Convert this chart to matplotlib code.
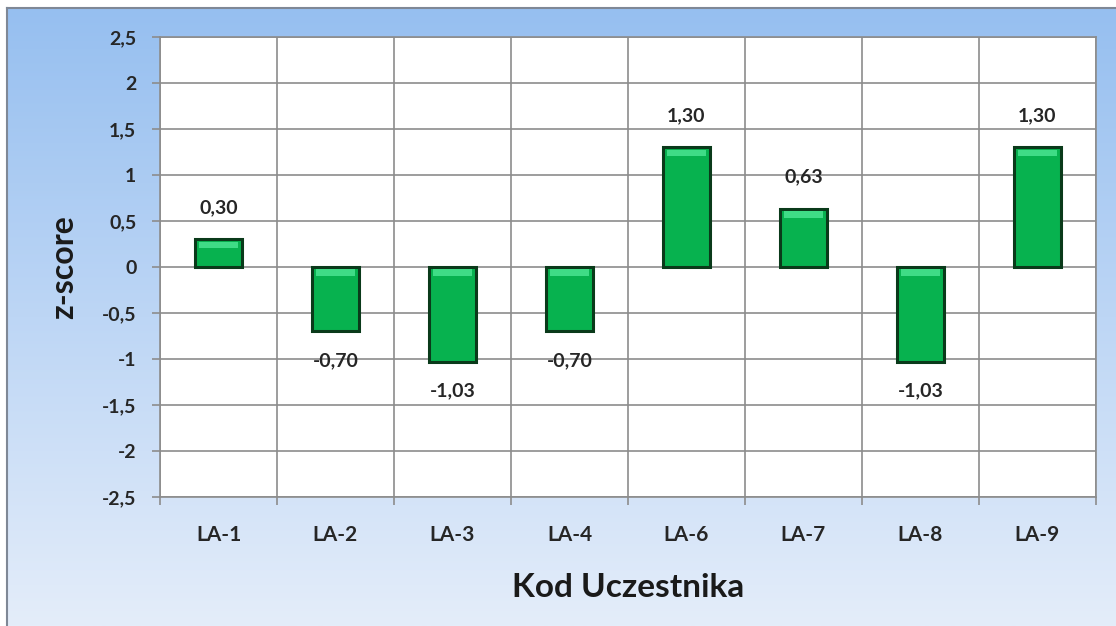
import numpy as np
import matplotlib
matplotlib.use("Agg")
import matplotlib.pyplot as plt

categories = ["LA-1", "LA-2", "LA-3", "LA-4", "LA-6", "LA-7", "LA-8", "LA-9"]
values = [0.30, -0.70, -1.03, -0.70, 1.30, 0.63, -1.03, 1.30]
labels = ["0,30", "-0,70", "-1,03", "-0,70", "1,30", "0,63", "-1,03", "1,30"]
yticks = [-2.5, -2, -1.5, -1, -0.5, 0, 0.5, 1, 1.5, 2, 2.5]
ytick_labels = ["-2,5", "-2", "-1,5", "-1", "-0,5", "0", "0,5", "1", "1,5", "2", "2,5"]

plt.rcParams['font.family'] = ['Lato', 'DejaVu Sans']

W, H = 1116, 626
fig = plt.figure(figsize=(W/100, H/100), dpi=100)
fig.patch.set_facecolor("white")

# background gradient panel
bg = fig.add_axes([7/W, 0, 1 - 7/W, 1 - 8/H])
grad = np.linspace(0, 1, 256)[:, None]
top = np.array([150, 191, 240]) / 255
bot = np.array([228, 237, 250]) / 255
img = top[None, None, :] * (1 - grad[..., None]) + bot[None, None, :] * grad[..., None]
bg.imshow(img, aspect="auto", extent=[0, 1, 0, 1])
bg.set_xlim(0, 1); bg.set_ylim(0, 1)
bg.set_xticks([]); bg.set_yticks([])
for s in ["right", "bottom"]:
    bg.spines[s].set_visible(False)
for s in ["left", "top"]:
    bg.spines[s].set_color("#7f8896")
    bg.spines[s].set_linewidth(1.5)

x0, x1 = 160, 1096
y0, y1 = 37, 497
ax = fig.add_axes([x0/W, 1 - y1/H, (x1-x0)/W, (y1-y0)/H])
ax.set_facecolor("white")
n = len(categories)
x = np.arange(n)
ax.set_xlim(-0.5, n - 0.5)
ax.set_ylim(-2.5, 2.5)

bars = ax.bar(x, values, width=0.41, color="#07B24F", edgecolor="#0A3A1A", linewidth=2.2, zorder=3)
# bevel highlight along the top edge of each bar
for xi, v in zip(x, values):
    h = 0.07
    topv = max(v, 0)
    ax.bar(xi, -h, bottom=topv - 0.025, width=0.34, color="#3FDC86", linewidth=0, zorder=4)

for xi, v, lab in zip(x, values, labels):
    if v >= 0:
        ax.annotate(lab, (xi, v), xytext=(0, 19), textcoords="offset points",
                    ha="center", va="baseline", fontsize=14, fontweight="bold", color="#262626")
    else:
        ax.annotate(lab, (xi, v), xytext=(0, -15), textcoords="offset points",
                    ha="center", va="top", fontsize=14, fontweight="bold", color="#262626")

ax.set_yticks(yticks)
ax.set_yticklabels(ytick_labels, fontsize=14, fontweight="bold", color="#262626")
ax.set_xticks(x)
ax.set_xticklabels(categories, fontsize=15, fontweight="bold", color="#262626")
ax.set_xticks(np.arange(n + 1) - 0.5, minor=True)
ax.tick_params(axis="x", which="major", length=0, pad=20)
ax.tick_params(axis="x", which="minor", length=6, color="#8c8c8c", width=1.2)
ax.tick_params(axis="y", length=6, color="#8c8c8c", width=1.2, pad=11)
ax.grid(True, axis="y", color="#8c8c8c", linewidth=1.2, zorder=0)
ax.grid(True, axis="x", which="minor", color="#8c8c8c", linewidth=1.2, zorder=0)
ax.set_axisbelow(True)
for s in ax.spines.values():
    s.set_color("#8c8c8c")
    s.set_linewidth(1.2)

ax.set_ylabel("z-score", fontsize=23, fontweight="bold", color="#1a1a1a", labelpad=17)
ax.set_xlabel("Kod Uczestnika", fontsize=24, fontweight="bold", color="#1a1a1a", labelpad=20)

fig.savefig("out.png", dpi=100)
